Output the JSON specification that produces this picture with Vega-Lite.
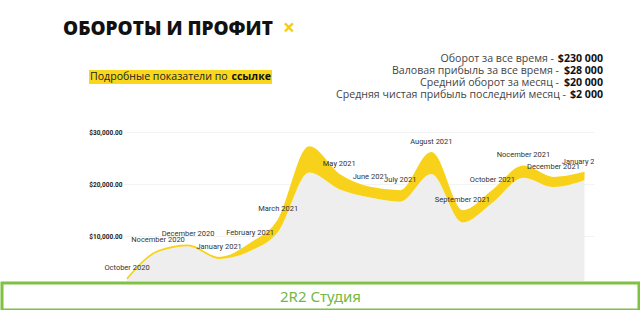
{
  "$schema": "https://vega.github.io/schema/vega-lite/v6.json",
  "background": "white",
  "padding": 0,
  "spacing": 0,
  "config": {"view": {"stroke": null}},
  "vconcat": [
    {
      "spacing": 0,
      "bounds": "flush",
      "hconcat": [
        {"width": 61, "height": 53, "data": {"values": []}, "mark": "text"},
        {
          "width": 221,
          "height": 53,
          "data": {"values": [{"heading": "ОБОРОТЫ И ПРОФИТ"}]},
          "mark": {"type": "text", "align": "left", "baseline": "middle", "dy": 2, "font": "Open Sans", "fontSize": 19, "fontWeight": 800, "color": "#111111"},
          "encoding": {
            "x": {"datum": 0, "type": "quantitative", "scale": {"domain": [0, 1]}, "axis": null},
            "text": {"field": "heading"}
          }
        },
        {
          "width": 10,
          "height": 53,
          "data": {"values": [{"mark": "×"}]},
          "mark": {"type": "text", "baseline": "middle", "dy": 2, "font": "Open Sans", "fontSize": 21, "fontWeight": "bold", "color": "#f4cc1f"},
          "encoding": {"text": {"field": "mark"}}
        }
      ]
    },
    {
      "spacing": 0,
      "bounds": "flush",
      "center": true,
      "hconcat": [
        {"width": 87, "height": 14, "data": {"values": []}, "mark": "text"},
        {
          "width": 183,
          "height": 14,
          "view": {"fill": "#f9d71c", "stroke": null},
          "data": {"values": [{"plain": "Подробные показатели по", "link": "ссылке"}]},
          "encoding": {
            "x": {"datum": 0, "type": "quantitative", "scale": {"domain": [0, 1]}, "axis": null}
          },
          "layer": [
            {"mark": {"type": "text", "align": "left", "baseline": "middle", "font": "Open Sans", "fontSize": 10.6, "color": "#222222", "dx": 1}, "encoding": {"text": {"field": "plain"}}},
            {"mark": {"type": "text", "align": "right", "baseline": "middle", "font": "Open Sans", "fontSize": 10.6, "fontWeight": "bold", "color": "#111111", "dx": -1}, "encoding": {"x": {"datum": 1, "type": "quantitative"}, "text": {"field": "link"}}}
          ]
        },
        {
          "width": 331,
          "height": 48,
          "data": {"values": [
            {"row": 1, "label": "Оборот за все время -", "value": "$230 000"},
            {"row": 2, "label": "Валовая прибыль за все время -", "value": "$28 000"},
            {"row": 3, "label": "Средний оборот за месяц -", "value": "$20 000"},
            {"row": 4, "label": "Средняя чистая прибыль последний месяц -", "value": "$2 000"}
          ]},
          "encoding": {
            "x": {"datum": 1, "type": "quantitative", "scale": {"domain": [0, 1]}, "axis": null},
            "y": {"field": "row", "type": "ordinal", "scale": {"type": "point", "padding": 0.5}, "axis": null}
          },
          "layer": [
            {"mark": {"type": "text", "align": "right", "baseline": "middle", "font": "Open Sans", "fontSize": 10.6, "fontWeight": "bold", "color": "#111111"}, "encoding": {"text": {"field": "value"}}},
            {"transform": [{"filter": {"field": "row", "equal": 1}}], "mark": {"type": "text", "align": "right", "baseline": "middle", "dx": -49, "font": "Open Sans", "fontSize": 10.6, "color": "#444444"}, "encoding": {"text": {"field": "label"}}},
            {"transform": [{"filter": {"field": "row", "equal": 2}}], "mark": {"type": "text", "align": "right", "baseline": "middle", "dx": -44, "font": "Open Sans", "fontSize": 10.6, "color": "#444444"}, "encoding": {"text": {"field": "label"}}},
            {"transform": [{"filter": {"field": "row", "equal": 3}}], "mark": {"type": "text", "align": "right", "baseline": "middle", "dx": -44, "font": "Open Sans", "fontSize": 10.6, "color": "#444444"}, "encoding": {"text": {"field": "label"}}},
            {"transform": [{"filter": {"field": "row", "equal": 4}}], "mark": {"type": "text", "align": "right", "baseline": "middle", "dx": -37, "font": "Open Sans", "fontSize": 10.6, "color": "#444444"}, "encoding": {"text": {"field": "label"}}}
          ]
        }
      ]
    },
    {
      "spacing": 0,
      "bounds": "flush",
      "hconcat": [
        {"width": 122, "height": 10, "data": {"values": []}, "mark": "text"},
        {
          "width": 470,
          "height": 180,
          "data": {"values": [
            {"date": "2020-10-01", "top": 1800, "bottom": 1700, "label": "October 2020"},
            {"date": "2020-11-01", "top": 7100, "bottom": 7000, "label": "Nocember 2020"},
            {"date": "2020-12-01", "top": 8200, "bottom": 8100, "label": "December 2020"},
            {"date": "2021-01-01", "top": 5800, "bottom": 5600, "label": "January 2021"},
            {"date": "2021-02-01", "top": 8500, "bottom": 7100, "label": "February 2021"},
            {"date": "2021-03-01", "top": 13000, "bottom": 10800, "label": "March 2021"},
            {"date": "2021-04-01", "top": 27100, "bottom": 22200, "label": ""},
            {"date": "2021-05-01", "top": 21800, "bottom": 19000, "label": "May 2021"},
            {"date": "2021-06-01", "top": 19300, "bottom": 17400, "label": "June 2021"},
            {"date": "2021-07-01", "top": 18650, "bottom": 16600, "label": "July 2021"},
            {"date": "2021-08-01", "top": 26000, "bottom": 21900, "label": "August 2021"},
            {"date": "2021-09-01", "top": 14800, "bottom": 12600, "label": "September 2021"},
            {"date": "2021-10-01", "top": 18650, "bottom": 16400, "label": "October 2021"},
            {"date": "2021-11-01", "top": 23400, "bottom": 21200, "label": "Nocember 2021"},
            {"date": "2021-12-01", "top": 21200, "bottom": 19400, "label": "December 2021"},
            {"date": "2022-01-01", "top": 22200, "bottom": 20700, "label": "January 2022"}
          ]},
          "encoding": {
            "x": {"field": "date", "type": "temporal", "scale": {"domain": ["2020-09-28", "2022-01-10T12:00:00"]}, "axis": null}
          },
          "layer": [
            {
              "mark": {"type": "area", "interpolate": "monotone", "color": "#eeeeee", "clip": true},
              "encoding": {
                "y": {"field": "bottom", "type": "quantitative", "scale": {"domain": [1346, 35962], "nice": false, "zero": false},
                  "axis": {"values": [10000, 20000, 30000], "format": "$,.2f", "title": null, "domain": false, "ticks": false, "grid": true, "gridColor": "#f3f3f3", "labelFont": "Roboto", "labelFontSize": 6.5, "labelFontWeight": "bold", "labelColor": "#222222", "labelPadding": 2}},
                "y2": {"datum": 0}
              }
            },
            {
              "mark": {"type": "area", "interpolate": "monotone", "color": "#f8d21a", "clip": true},
              "encoding": {"y": {"field": "top", "type": "quantitative"}, "y2": {"field": "bottom"}}
            },
            {
              "mark": {"type": "line", "interpolate": "monotone", "color": "#f8d21a", "strokeWidth": 1.6, "clip": true},
              "encoding": {"y": {"field": "top", "type": "quantitative"}}
            },
            {
              "transform": [{"filter": "datum.label != null && datum.label !== '' && datum.label !== 'January 2022'"}],
              "mark": {"type": "text", "baseline": "middle", "dy": -11, "font": "Roboto", "fontSize": 7.5, "color": "#333333"},
              "encoding": {"y": {"field": "top", "type": "quantitative"}, "text": {"field": "label"}}
            },
            {
              "transform": [{"filter": {"field": "label", "equal": "January 2022"}}],
              "mark": {"type": "text", "baseline": "middle", "dy": -11, "font": "Roboto", "fontSize": 7.5, "color": "#333333", "clip": true},
              "encoding": {"y": {"field": "top", "type": "quantitative"}, "text": {"field": "label"}}
            }
          ]
        }
      ]
    },
    {
      "width": 637,
      "height": 27,
      "view": {"fill": "white", "stroke": "#7dc243", "strokeWidth": 3},
      "data": {"values": [{"name": "2R2 Студия"}]},
      "mark": {"type": "text", "baseline": "middle", "font": "Noto Sans", "fontSize": 15, "color": "#74b843"},
      "encoding": {"text": {"field": "name"}}
    }
  ]
}
